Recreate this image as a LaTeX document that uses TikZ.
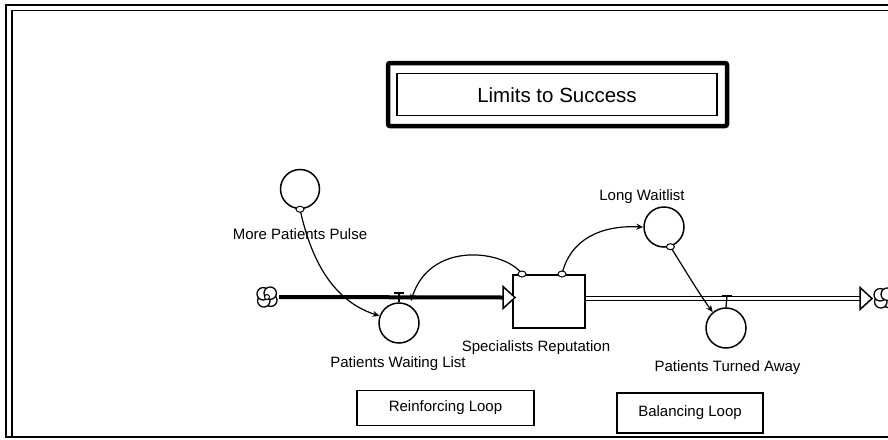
\documentclass[tikz,border=0pt]{standalone}
\usepackage{fontspec}
\setmainfont{Liberation Sans}
\usetikzlibrary{arrows.meta,shapes.symbols,shapes.geometric}
\begin{document}
\begin{tikzpicture}[x=1pt,y=-1pt,
  lbl/.style={font=\fontsize{15}{17}\selectfont, inner sep=0pt},
  conv/.style={circle, draw, line width=1.5pt, minimum size=40pt, inner sep=0pt},
  conn/.style={line width=1.2pt, -{Stealth[open,length=7pt,width=6pt,line width=1pt]}},
  tiny/.style={ellipse, draw, fill=white, line width=1pt, minimum width=8pt, minimum height=6pt, inner sep=0pt},
  cloudpt/.style={circle, minimum size=24pt, inner sep=0pt},
  boxlbl/.style={draw, line width=1.3pt, font=\fontsize{15}{17}\selectfont, inner sep=0pt}]
\useasboundingbox (0,0) rectangle (888,439);
% frame
\draw[line width=2.2pt] (6,437) -- (6,5) -- (888,5);
\draw[line width=1.5pt] (12,437) -- (12,10.5) -- (888,10.5);
\draw[line width=2pt] (5,437) -- (888,437);
% title
\draw[line width=4.5pt, rounded corners=2pt] (388,63) rectangle (727,126);
\draw[line width=1.5pt] (397,73.5) rectangle (717,115.5);
\node[font=\fontsize{20.5}{24}\selectfont, inner sep=0pt] (title) at (557,95) {Limits to Success};
% clouds
\node[cloudpt] (cl) at (267,297) {};
\foreach \a in {40,130,220,310}
  \draw[line width=1.3pt, fill=white] (cl.center) ++(\a:5) circle (6.2);
\draw[line width=1pt, fill=white] (cl.center) circle (2.5);
\node[cloudpt] (cr) at (884,298) {};
\foreach \a in {40,130,220,310}
  \draw[line width=1.3pt, fill=white] (cr.center) ++(\a:5) circle (6.2);
% stock
\node[draw, line width=1.5pt, minimum width=72pt, minimum height=53pt, inner sep=0pt] (sr) at (549,301.5) {};
% converters
\node[conv, minimum size=39pt] (mpp) at (300,189) {};
\node[conv] (pwl) at (399,323) {};
\node[conv] (lw) at (664,227) {};
\node[conv] (pta) at (726,328) {};
% labels
\node[lbl] (mppl) at (300,234) {More Patients Pulse};
\node[lbl] (pwll) at (398,364) {Patients Waiting List};
\node[lbl] (srl) at (536,348) {Specialists Reputation};
\node[lbl] (ptal) at (727.5,368) {Patients Turned Away};
\node[lbl] (lwl) at (642,197) {Long Waitlist};
% left pipe
\coordinate (la) at (503,297.5);
\draw[line width=4pt] (cl.east) -- (la);
\draw[line width=1.5pt, fill=white] (la) ++(0,-11) -- ++(12,11) -- ++(-12,11) -- cycle;
% right pipe
\coordinate (ra) at (860,298.5);
\draw[line width=5.5pt] ([yshift=3pt]sr.east) -- (ra);
\draw[line width=2.5pt, white] ([yshift=3pt]sr.east) -- (ra);
\draw[line width=1.5pt, fill=white] (ra) ++(0,-11) -- ++(12,11) -- ++(-12,11) -- cycle;
% valves
\coordinate (v1) at (399,292.5);
\draw[line width=2pt] (v1) ++(-5,0) -- ++(10,0);
\draw[line width=1.3pt] (v1) -- (pwl.north);
\coordinate (v2) at (727,296);
\draw[line width=2pt] (v2) ++(-5,0) -- ++(10,0);
\draw[line width=1.3pt] (v2) -- (pta.north);
% connectors
\draw[conn] (mpp.south) .. controls (310,255) and (330,300) .. (pwl.160);
\node[tiny] (o1) at (mpp.south) {};
\coordinate (o2) at (522,274);
\coordinate (o3) at (562,274);
\coordinate (pwlin) at (411,301);
\draw[conn] (o2) .. controls (505,250) and (430,240) .. (pwlin);
\draw[conn] (o3) .. controls (570,240) and (600,225) .. (lw.west);
\node[tiny] at (o2) {};
\node[tiny] at (o3) {};
\coordinate (o4) at (lw.-72);
\draw[conn] (o4) .. controls (685,270) and (700,295) .. (pta.130);
\node[tiny] at (o4) {};
% loop boxes
\node[boxlbl, minimum width=177pt, minimum height=35pt] (rl) at (445.5,408) {Reinforcing Loop};
\node[boxlbl, minimum width=146pt, minimum height=40pt] (bl) at (690,413) {Balancing Loop};
\end{tikzpicture}
\end{document}
